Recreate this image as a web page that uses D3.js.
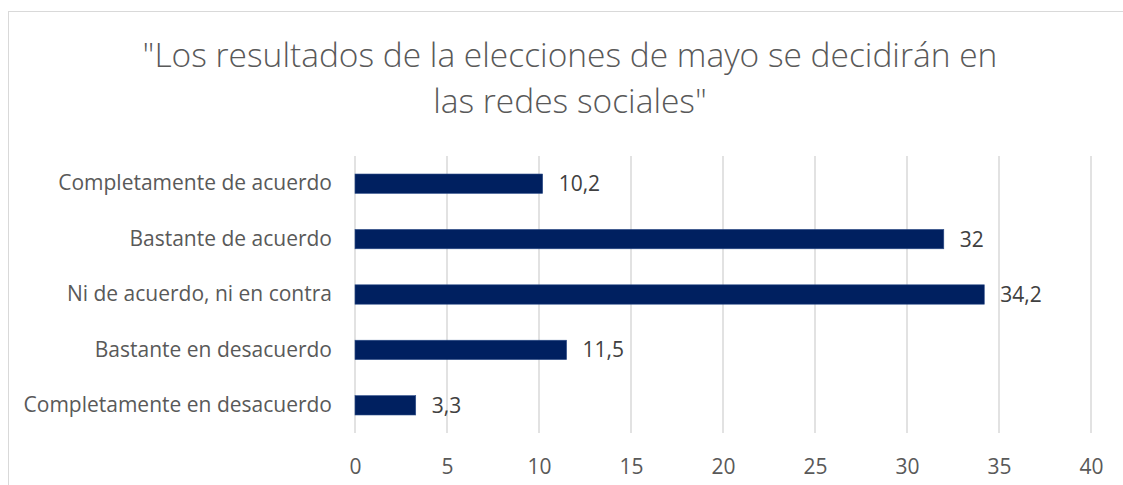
<!DOCTYPE html>
<html>
<head>
<meta charset="utf-8">
<script src="https://cdn.jsdelivr.net/npm/d3@7"></script>
<style>
  html, body { margin: 0; padding: 0; background: #fff; }
  svg { display: block; font-family: "Open Sans", "Noto Sans", sans-serif; }
</style>
</head>
<body>
<svg id="chart" width="1123" height="485"></svg>
<script>
// Survey answers and their shares (%)
const categories = [
  "Completamente de acuerdo",
  "Bastante de acuerdo",
  "Ni de acuerdo, ni en contra",
  "Bastante en desacuerdo",
  "Completamente en desacuerdo"
];
const values = [10.2, 32, 34.2, 11.5, 3.3];
const tickValues = [0, 5, 10, 15, 20, 25, 30, 35, 40];
const titleLines = [
  "\"Los resultados de la elecciones de mayo se decidirán en",
  "las redes sociales\""
];

const svg = d3.select("#chart");
const plot = { left: 355, right: 1091, top: 156, bottom: 433 };

// outer chart frame
svg.append("rect")
  .attr("x", 8.5).attr("y", 11.5)
  .attr("width", 1130).attr("height", 500)
  .attr("fill", "#fff").attr("stroke", "#d9d9d9").attr("stroke-width", 1);

// title
svg.append("g").selectAll("text")
  .data(titleLines)
  .join("text")
  .attr("x", 570)
  .attr("y", (d, i) => 67 + i * 46)
  .attr("text-anchor", "middle")
  .attr("font-size", 33.5)
  .attr("font-weight", 300)
  .attr("fill", "#595959")
  .text(d => d);

const x = d3.scaleLinear().domain([0, 40]).range([plot.left, plot.right]);
const y = d3.scaleBand().domain(categories).range([plot.top, plot.bottom]).paddingInner(0.65).paddingOuter(0.325);

// vertical gridlines
svg.append("g").selectAll("line")
  .data(tickValues)
  .join("line")
  .attr("x1", d => x(d)).attr("x2", d => x(d))
  .attr("y1", plot.top).attr("y2", plot.bottom)
  .attr("stroke", "#d9d9d9").attr("stroke-width", 1.5);

// x axis tick labels
const xAxis = d3.axisBottom(x).tickValues(tickValues).tickSize(0).tickPadding(0)
  .tickFormat(d3.format("d"));
const gx = svg.append("g").attr("transform", `translate(0,${plot.bottom + 26})`).call(xAxis);
gx.select(".domain").remove();
gx.selectAll("text")
  .attr("font-family", "\"Open Sans\", sans-serif")
  .attr("font-size", 21)
  .attr("fill", "#595959");

// category labels
const yAxis = d3.axisLeft(y).tickSize(0).tickPadding(23);
const gy = svg.append("g").attr("transform", `translate(${plot.left},0)`).call(yAxis);
gy.select(".domain").remove();
gy.selectAll("text")
  .attr("font-family", "\"Open Sans\", sans-serif")
  .attr("font-size", 21)
  .attr("fill", "#595959");

// bars
svg.append("g").selectAll("rect")
  .data(values)
  .join("rect")
  .attr("x", x(0))
  .attr("y", (d, i) => y(categories[i]))
  .attr("width", d => x(d) - x(0))
  .attr("height", y.bandwidth())
  .attr("fill", "#002060")
  .attr("stroke", "#2f4f8a").attr("stroke-width", 0.6);

// value labels
const fmt = v => String(v).replace(".", ",");
svg.append("g").selectAll("text")
  .data(values)
  .join("text")
  .attr("x", d => x(d) + 16)
  .attr("y", (d, i) => y(categories[i]) + y.bandwidth() / 2)
  .attr("dy", "0.36em")
  .attr("font-size", 21)
  .attr("fill", "#404040")
  .text(fmt);
</script>
</body>
</html>
